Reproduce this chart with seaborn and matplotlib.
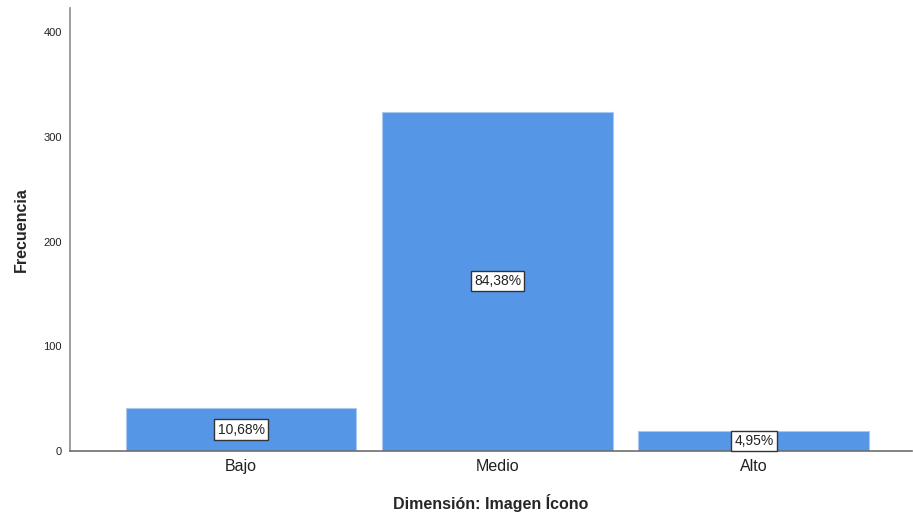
import matplotlib
matplotlib.use('Agg')
import matplotlib.pyplot as plt
import seaborn as sns
import pandas as pd

categorias = ['Bajo', 'Medio', 'Alto']
frecuencias = [41, 324, 19]
porcentajes = ['10,68%', '84,38%', '4,95%']

datos = pd.DataFrame({'nivel': categorias, 'frecuencia': frecuencias})

sns.set_style("white")
plt.rcParams['font.family'] = ['Liberation Sans', 'DejaVu Sans']

fig = plt.figure(figsize=(9.13, 5.15), dpi=100)
ax = fig.add_axes([0.0767, 0.1243, 0.922, 0.8602])

sns.barplot(data=datos, x='nivel', y='frecuencia', color='#5596e6', saturation=1,
            width=0.9, edgecolor='#a9c9f0', linewidth=0.8, ax=ax)

for i, (f, p) in enumerate(zip(frecuencias, porcentajes)):
    ax.text(i, f / 2, p, ha='center', va='center', fontsize=10, color='#222222',
            bbox=dict(boxstyle='square,pad=0.22', facecolor='white', edgecolor='#333333', linewidth=1))

ax.set_xlim(-0.667, 2.616)
ax.set_ylim(0, 423)
ax.set_yticks([0, 100, 200, 300, 400])
ax.tick_params(axis='y', labelsize=8, length=0, pad=6, colors='#222222')
ax.tick_params(axis='x', labelsize=11.5, length=0, pad=6, colors='#222222')

for lado in ['top', 'right']:
    ax.spines[lado].set_visible(False)
ax.spines['left'].set_color('#8c8c8c')
ax.spines['bottom'].set_color('#6e6e6e')
ax.spines['left'].set_linewidth(1.2)
ax.spines['bottom'].set_linewidth(1.2)

ax.set_xlabel('Dimensión: Imagen Ícono', fontsize=11.5, fontweight='bold', labelpad=14)
ax.set_ylabel('Frecuencia', fontsize=11.5, fontweight='bold', labelpad=10)

fig.savefig('out.png', dpi=100)
